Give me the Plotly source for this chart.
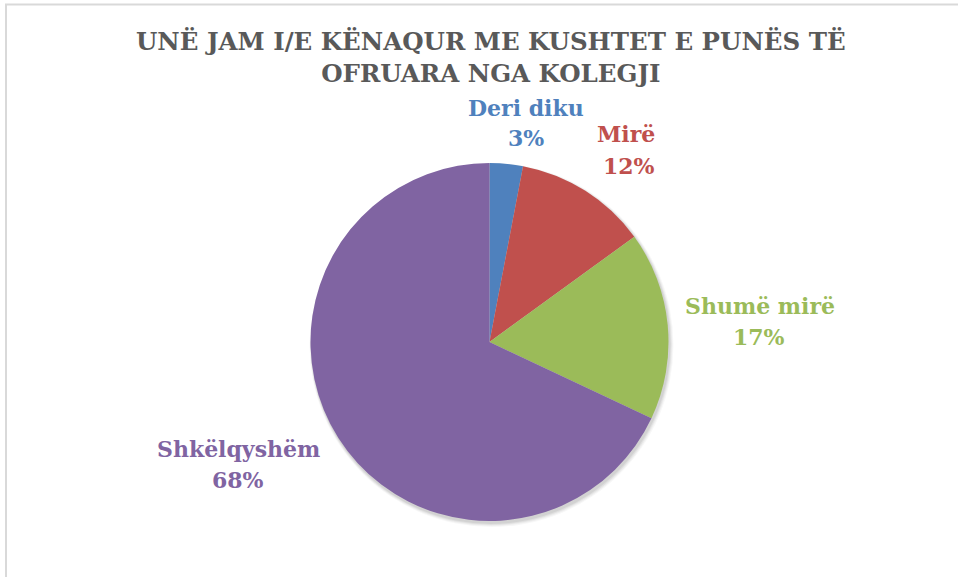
import plotly.graph_objects as go

categories = ["Deri diku", "Mirë", "Shumë mirë", "Shkëlqyshëm"]
values = [3, 12, 17, 68]
colors = ["#4F81BD", "#C0504D", "#9BBB59", "#8064A2"]
title_text = "UNË JAM I/E KËNAQUR ME KUSHTET E PUNËS TË<br>OFRUARA NGA KOLEGJI"

W, H = 958, 577
cx, cy, r = 489.5, 342.0, 179.0


def px_x(p):
    return p / W


def px_y(p):
    return 1 - p / H


fig = go.Figure()
fig.add_trace(go.Pie(
    labels=categories,
    values=values,
    sort=False,
    direction="clockwise",
    rotation=0,
    marker=dict(colors=colors, line=dict(color="white", width=0)),
    textinfo="none",
    hoverinfo="label+percent",
    showlegend=False,
    domain=dict(x=[(cx - r) / W, (cx + r) / W], y=[(H - cy - r) / H, (H - cy + r) / H]),
))

# label positions (pixels from top-left) for name line and percent line
label_pos = [
    ((526, 108), (526, 138)),
    ((626, 134), (629, 166)),
    ((760, 306), (759, 337)),
    ((238, 449), (238, 480)),
]
total = sum(values)
annotations = []
for cat, val, col, (p1, p2) in zip(categories, values, colors, label_pos):
    pct = f"{round(val / total * 100)}%"
    for txt, (px, py) in ((cat, p1), (pct, p2)):
        annotations.append(dict(
            text=f"<b>{txt}</b>", x=px_x(px), y=px_y(py), xref="paper", yref="paper",
            xanchor="center", yanchor="middle", showarrow=False,
            font=dict(family="DejaVu Serif", size=22, color=col),
        ))

annotations.append(dict(
    text=f"<b>{title_text}</b>", x=px_x(490.5), y=px_y(57), xref="paper", yref="paper",
    xanchor="center", yanchor="middle", showarrow=False,
    font=dict(family="DejaVu Serif", size=24.5, color="#595959"),
))

shapes = [dict(type="rect", xref="paper", yref="paper",
               x0=px_x(6), x1=1.05, y0=-0.05, y1=px_y(4.5),
               line=dict(color="#D9D9D9", width=2))]
# soft shadow under the pie
for k, a in ((4, 0.03), (3, 0.04), (2, 0.05), (1, 0.06)):
    shapes.append(dict(type="circle", xref="paper", yref="paper", layer="below",
                       x0=px_x(cx - r + 1 - k * 0.5), x1=px_x(cx + r + 1 + k),
                       y0=px_y(cy + r + 2 + k), y1=px_y(cy - r + 2 - k * 0.5),
                       line=dict(width=0), fillcolor=f"rgba(0,0,0,{a})"))

fig.update_layout(
    width=W, height=H,
    margin=dict(l=0, r=0, t=0, b=0),
    paper_bgcolor="white",
    plot_bgcolor="rgba(0,0,0,0)",
    annotations=annotations,
    shapes=shapes,
)

fig.write_html("out.html", config={"displayModeBar": False},
               post_script="document.body.style.margin='0';document.body.style.overflow='hidden';")
